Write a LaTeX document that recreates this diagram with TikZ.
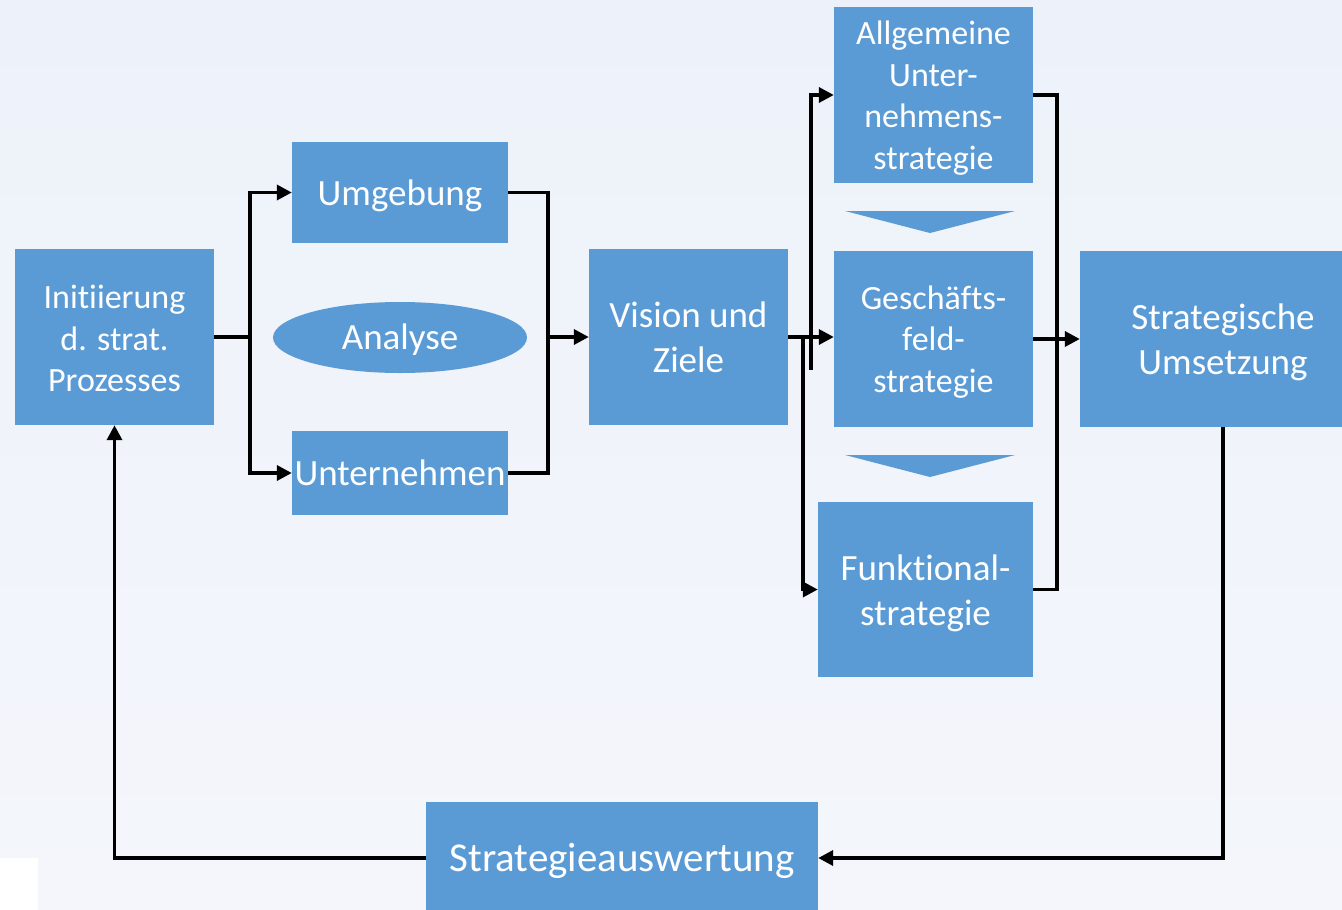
\documentclass[tikz,border=0pt]{standalone}
\usepackage{fontspec}
\setmainfont{Carlito}[Ligatures=NoCommon, RawFeature={-liga;-clig;-dlig}]
\usetikzlibrary{arrows.meta,shapes.geometric}
\definecolor{boxblue}{RGB}{91,155,213}
\definecolor{bgtop}{RGB}{237,242,250}
\definecolor{bgbot}{RGB}{244,246,251}
\tikzset{
  box/.style={rectangle, fill=boxblue, inner sep=0pt},
  txt/.style={text=white, inner sep=0pt, align=center},
  fs/.style={font=\fontsize{34}{41.5}\selectfont},
  fm/.style={font=\fontsize{37}{45}\selectfont},
  fl/.style={font=\fontsize{41}{49}\selectfont},
  conn/.style={line width=3.5pt, black, line join=miter},
  arr/.style={conn, -{Triangle[length=15pt,width=15pt]}},
}
\begin{document}
\begin{tikzpicture}[x=1pt,y=-1pt]
\useasboundingbox (0,0) rectangle (1342,910);
\clip (0,0) rectangle (1342,910);
\shade[top color=bgtop, bottom color=bgbot] (0,0) rectangle (1342,910);
\fill[white] (0,858) rectangle (38,910);

% boxes
\node[box, minimum width=199pt, minimum height=176pt] (init) at (114.5,337) {};
\node[box, minimum width=216pt, minimum height=101pt] (umg) at (400,192.5) {};
\node[ellipse, fill=boxblue, inner sep=0pt, minimum width=254pt, minimum height=71pt] (ana) at (400,337.5) {};
\node[box, minimum width=216pt, minimum height=84pt] (unt) at (400,473) {};
\node[box, minimum width=199pt, minimum height=176pt] (vis) at (688.5,337) {};
\node[box, minimum width=199pt, minimum height=176pt] (allg) at (933.5,95) {};
\node[box, minimum width=199pt, minimum height=176pt] (gesch) at (933.5,339) {};
\node[box, minimum width=215pt, minimum height=175pt] (funk) at (925.5,589.5) {};
\node[box, minimum width=286pt, minimum height=176pt] (su) at (1223,339) {};
\node[box, minimum width=392pt, minimum height=112pt] (sa) at (622,858) {};

% texts
\node[txt, fs] (init-t) at ([yshift=-1.5pt]init.center) {Initiierung\\d. strat.\\Prozesses};
\node[txt, fm] (umg-t) at ([yshift=-3pt]umg.center) {Umgebung};
\node[txt, fm] (ana-t) at ([yshift=-2.5pt]ana.center) {Analyse};
\node[txt, fm] (unt-t) at ([yshift=0pt]unt.center) {Unternehmen};
\node[txt, fm] (vis-t) at ([yshift=-0.5pt]vis.center) {Vision und\\Ziele};
\node[txt, fs] (allg-t) at ([yshift=-3pt]allg.center) {Allgemeine\\Unter-\\nehmens-\\strategie};
\node[txt, fs] (gesch-t) at ([yshift=-3pt]gesch.center) {Geschäfts-\\feld-\\strategie};
\node[txt, fm] (funk-t) at ([yshift=-3.5pt]funk.center) {Funktional-\\strategie};
\node[txt, fm] (su-t) at ([yshift=-3pt]su.center) {Strategische\\Umsetzung};
\node[txt, fl] (sa-t) at ([yshift=-3pt]sa.center) {Strategieauswertung};

% chevrons
\fill[boxblue] (845,211) -- (1015,211) -- (930,233) -- cycle;
\fill[boxblue] (845,455) -- (1015,455) -- (930,477) -- cycle;

% junction coordinates
\coordinate (j1) at (250,337);
\coordinate (j2) at (548,337);
\coordinate (k1) at (811,370);
\coordinate (k2) at (803,337);

% connectors
\draw[conn] (init.east) -- (j1);
\draw[arr] (j1) |- (umg.west);
\draw[arr] (j1) |- (unt.west);
\draw[conn] (umg.east) -- ++(40,0) |- (unt.east);
\draw[arr] (j2) -- (vis.west);
\draw[arr] (vis.east) -- (vis.east -| gesch.west);
\draw[arr] (k1) |- (allg.west);
\draw[arr] (k2) |- (funk.west);
\draw[conn] (allg.east) -- ++(24,0) |- (funk.east);
\draw[arr] (gesch.east) -- (gesch.east -| su.west);
\draw[arr] (su.south) |- (sa.east);
\draw[arr] (sa.west) -| (init.south);
\end{tikzpicture}
\end{document}
